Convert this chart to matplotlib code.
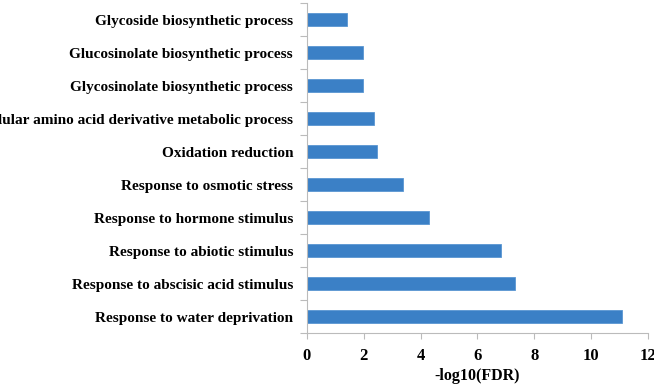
import matplotlib.pyplot as plt
import numpy as np

terms = ["Response to water deprivation",
         "Response to abscisic acid stimulus",
         "Response to abiotic stimulus",
         "Response to hormone stimulus",
         "Response to osmotic stress",
         "Oxidation reduction",
         "Cellular amino acid derivative metabolic process",
         "Glycosinolate biosynthetic process",
         "Glucosinolate biosynthetic process",
         "Glycoside biosynthetic process"]
values = [11.1, 7.33, 6.81, 4.30, 3.37, 2.45, 2.35, 1.98, 1.98, 1.42]
xticks = [0, 2, 4, 6, 8, 10, 12]

plt.rcParams['font.family'] = ['Liberation Serif', 'DejaVu Serif']
plt.rcParams['font.weight'] = 'bold'

fig = plt.figure(figsize=(6.54, 3.85), dpi=100)
ax = fig.add_axes([0.4694, 0.135, 0.5214, 0.857])

pos = np.arange(len(terms))
ax.barh(pos, values, height=0.4, color='#3B80C6', edgecolor='#5A96D2', linewidth=0.6)

ax.set_xlim(0, 12)
ax.set_ylim(-0.5, len(terms) - 0.5)
ax.set_xticks(xticks)
ax.set_xticklabels([str(t) for t in xticks], fontsize=12, fontweight='bold')
ax.set_yticks(pos)
ax.set_yticklabels(terms, fontsize=11, fontweight='bold')
ax.set_yticks(np.arange(-0.5, len(terms), 1), minor=True)
ax.tick_params(axis='y', which='major', length=0, pad=10)
ax.tick_params(axis='y', which='minor', length=5, color='#BBBBBB', width=0.8)
ax.tick_params(axis='x', length=4, color='#BBBBBB', width=0.8, pad=7)

for s in ['top', 'right']:
    ax.spines[s].set_visible(False)
for s in ['left', 'bottom']:
    ax.spines[s].set_color('#BBBBBB')
    ax.spines[s].set_linewidth(0.8)

ax.set_xlabel('-log10(FDR)', fontsize=11.5, fontweight='bold', labelpad=3)

fig.savefig('out.png', dpi=100)
